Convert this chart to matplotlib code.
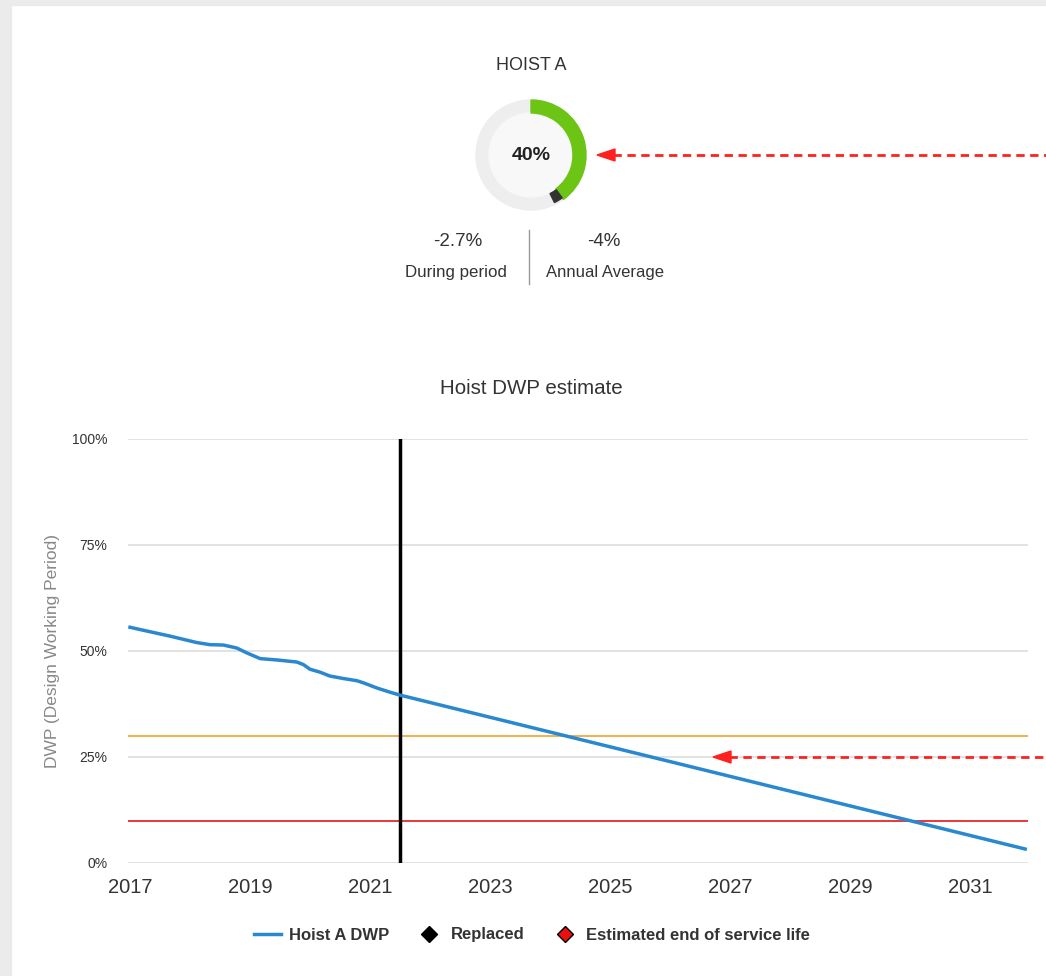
import matplotlib.pyplot as plt
from matplotlib.patches import Circle, Wedge, Rectangle, Polygon
from matplotlib.lines import Line2D

plt.rcParams['font.family'] = ['Liberation Sans', 'DejaVu Sans']

# gauge numbers
hoist_name = 'HOIST A'
current_dwp = 40
period_change = -2.7
annual_avg = -4

# DWP history (to mid 2021) and straight projection to end of 2031
years = [2017.0, 2017.22, 2017.67, 2018.11, 2018.33, 2018.56, 2018.78, 2018.94,
         2019.17, 2019.44, 2019.78, 2019.89, 2020.0, 2020.17, 2020.33, 2020.56,
         2020.78, 2020.89, 2021.11, 2021.33, 2021.5, 2031.92]
dwp = [55.6, 54.9, 53.5, 52.0, 51.5, 51.4, 50.7, 49.6,
       48.2, 47.9, 47.4, 46.8, 45.7, 45.0, 44.1, 43.5,
       43.0, 42.5, 41.3, 40.3, 39.6, 3.3]
replaced_year = 2021.5
warn_level = 30
limit_level = 10
x_ticks = [2017, 2019, 2021, 2023, 2025, 2027, 2029, 2031]
y_ticks = [0, 25, 50, 75, 100]
y_labels = ['0%', '25%', '50%', '75%', '100%']
legend_labels = ['Hoist A DWP', 'Replaced', 'Estimated end of service life']

W, H = 1046, 976
def fx(px):
    return px / W
def fy(py):
    return 1 - py / H

fig = plt.figure(figsize=(W / 100, H / 100), dpi=100)
fig.patch.set_facecolor('white')

# grey page edges
fig.patches.append(Rectangle((0, 0), fx(11), 1, transform=fig.transFigure, color='#ebebeb', zorder=0))
fig.patches.append(Rectangle((0, fy(5)), 1, 5 / H, transform=fig.transFigure, color='#ebebeb', zorder=0))

##gauge
fig.text(fx(531), fy(66), hoist_name, ha='center', va='center', fontsize=13, color='#333333')
dax = fig.add_axes([fx(531 - 65), fy(155 + 65), 130 / W, 130 / H])
dax.set_xlim(-65, 65)
dax.set_ylim(-65, 65)
dax.axis('off')
dax.add_patch(Circle((0, 0), 55, color='#eeeeee'))
dax.add_patch(Circle((0, 0), 42, color='#f8f8f8'))
g_end = 90 - 360 * current_dwp / 100
dax.add_patch(Wedge((0, 0), 55, g_end, 90, width=13, color='#6cc414'))
d_end = g_end - 360 * abs(period_change) / 100
dax.add_patch(Wedge((0, 0), 53, d_end, g_end, width=10, color='#333333'))
dax.text(0, 0, f'{current_dwp}%', ha='center', va='center', fontsize=14, fontweight='bold', color='#222222')

fig.text(fx(458), fy(242), f'{period_change}%', ha='center', va='center', fontsize=13.5, color='#333333')
fig.text(fx(456), fy(272), 'During period', ha='center', va='center', fontsize=12.2, color='#333333')
fig.text(fx(604), fy(242), f'{annual_avg}%', ha='center', va='center', fontsize=13.5, color='#333333')
fig.text(fx(605), fy(272), 'Annual Average', ha='center', va='center', fontsize=12, color='#333333')
fig.add_artist(Line2D([fx(529), fx(529)], [fy(230), fy(284)], color='#999999', lw=1))

##line chart
fig.text(fx(531), fy(389), 'Hoist DWP estimate', ha='center', va='center', fontsize=14.8, color='#333333')
ax = fig.add_axes([fx(128), fy(863), 900 / W, 424 / H])
ax.set_xlim(2016.967, 2031.967)
ax.set_ylim(0, 100)
for s in ax.spines.values():
    s.set_visible(False)
ax.set_yticks(y_ticks)
ax.set_yticklabels(y_labels)
ax.set_xticks(x_ticks)
ax.set_xticklabels([str(x) for x in x_ticks])
ax.tick_params(axis='y', length=0, pad=15, labelsize=10, labelcolor='#333333')
ax.tick_params(axis='x', length=0, pad=11, labelsize=14.5, labelcolor='#333333')
ax.grid(axis='y', color='#dddddd', lw=1.2)
ax.set_axisbelow(True)
ax.axhline(warn_level, color='#f5a742', lw=1.3, zorder=2)
ax.axhline(limit_level, color='#e8262a', lw=1.3, zorder=2)
ax.axvline(replaced_year, color='black', lw=2.5, zorder=3)
ax.plot(years, dwp, color='#2a88d0', lw=2.5, zorder=4)
ax.set_ylabel('DWP (Design Working Period)', fontsize=12.5, color='#888888')
ax.yaxis.set_label_coords((60 - 128) / 900, 0.5)

handles = [Line2D([], [], color='#2a88d0', lw=2.5),
           Line2D([], [], marker='D', color='black', ls='none', markersize=8),
           Line2D([], [], marker='D', markerfacecolor='#e81010', markeredgecolor='black', ls='none', markersize=8)]
fig.legend(handles, legend_labels, loc='center', bbox_to_anchor=(fx(532), fy(935)), ncol=3,
           frameon=False, prop={'weight': 'bold', 'size': 12}, labelcolor='#333333',
           handlelength=1.6, handletextpad=0.5, columnspacing=1.6)

##red call-out arrows
def red_arrow(tip_x, y):
    fig.add_artist(Line2D([fx(tip_x + 16), fx(W)], [fy(y), fy(y)], color='#ff2020', lw=2,
                          linestyle=(0, (3, 2))))
    fig.add_artist(Polygon([(fx(tip_x), fy(y)), (fx(tip_x + 18), fy(y - 6)), (fx(tip_x + 18), fy(y + 6))],
                           closed=True, transform=fig.transFigure, color='#ff2020'))

red_arrow(597, 155)
red_arrow(713, 757)

plt.savefig('out.png', dpi=100)
